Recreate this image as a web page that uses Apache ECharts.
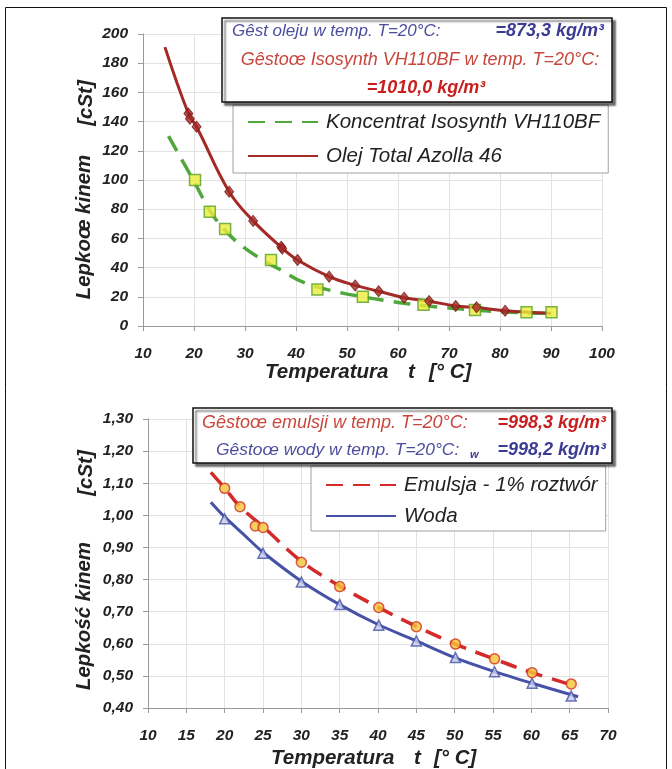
<!DOCTYPE html>
<html><head><meta charset="utf-8">
<script src="https://cdn.jsdelivr.net/npm/echarts@6/dist/echarts.min.js"></script>
<style>html,body{margin:0;padding:0;background:#fff}#c{width:672px;height:769px}</style>
</head><body><div id="c"></div>
<script>
// ---- Top chart data ----
const topXTicks = [10,20,30,40,50,60,70,80,90,100];
const topYTicks = [0,20,40,60,80,100,120,140,160,180,200];
const oilLine = [[14.3,191],[18.9,145.5],[20.5,136.5],[26.9,92],[31.6,72],[37.1,54],[40.3,45.2],[46.5,33.8],[51.6,27.8],[56.2,23.8],[61.2,19.4],[66.1,17],[71.3,13.7],[75.4,12.6],[81,10.5],[90,8.8]];
const oilMarks = [[18.9,145.5],[19.2,142],[20.5,136.5],[26.9,92],[31.6,72],[37.1,54.3],[37.3,53],[40.3,45.2],[46.5,33.8],[51.6,27.8],[56.2,23.8],[61.2,19.4],[66.1,17.1],[71.3,13.7],[75.4,12.8],[81,10.5]];
const concLine = [[15,130],[20,99],[23.3,78],[26.5,64],[29.7,54],[33.6,45],[37.2,38],[41.4,30],[47.3,24],[53,20],[58.4,17],[65,14],[75,11],[85,9],[90,8.8]];
const concMarks = [[20.2,100],[23.1,78.3],[26.1,66.4],[35.1,45.2],[44.2,25],[53.1,20],[65,14.5],[75.1,11],[85.2,9.5],[90.1,9.5]];
// ---- Bottom chart data ----
const botXTicks = [10,15,20,25,30,35,40,45,50,55,60,65,70];
const botYTicks = [0.4,0.5,0.6,0.7,0.8,0.9,1.0,1.1,1.2,1.3];
const emulLine = [[18.2,1.134],[20,1.085],[22,1.027],[25,0.965],[30,0.857],[35,0.78],[40,0.714],[45,0.654],[50,0.6],[55,0.554],[60,0.511],[66.1,0.466]];
const emulMarks = [[20,1.084],[22,1.027],[24,0.967],[25,0.962],[30,0.854],[35,0.778],[40.1,0.713],[45,0.653],[50.1,0.599],[55.2,0.553],[60.1,0.51],[65.2,0.475]];
const waterLine = [[18.2,1.041],[20,0.995],[22.5,0.94],[25,0.885],[30,0.795],[35,0.722],[40,0.66],[45,0.609],[50,0.557],[55,0.515],[60,0.478],[66.1,0.435]];
const waterMarks = [[20,0.989],[25,0.882],[30,0.792],[35,0.722],[40.1,0.658],[45,0.609],[50.1,0.557],[55.2,0.513],[60.1,0.477],[65.2,0.437]];

const FF = '"Liberation Sans", Arial, sans-serif';
const tickLbl = {fontFamily:FF, fontStyle:'italic', fontWeight:'bold', fontSize:15.5, color:'#222'};
const gridLine = {show:true, lineStyle:{color:'#e2e2e2', width:1}};
const axLine = {show:true, lineStyle:{color:'#9a9a9a', width:1}};
const axTick = {show:true, length:5, lineStyle:{color:'#9a9a9a'}};

const chart = echarts.init(document.getElementById('c'), null, {renderer:'canvas'});

function infoText(x, y, txt, color, bold, align, size) {
  return {type:'text', x:x, y:y, style:{text:txt, fill:color, font:(bold?'italic bold ':'italic ')+(size||18)+'px '+FF, textAlign:align||'left', textVerticalAlign:'middle'}, z:101};
}
function titleText(x, y, txt, rot) {
  return {type:'text', x:x, y:y, rotation:rot||0, style:{text:txt, fill:'#222', font:'italic bold 20.5px '+FF, textAlign:rot?'center':'left', textVerticalAlign:'middle'}, z:10};
}
const blueT = '#4d4d9e', redT = '#c8463c', blueB = '#3b3b94', redB = '#c81e1e';
const legText = {fontFamily:FF, fontStyle:'italic', fontSize:20.5, color:'#222', padding:[0,0,0,3]};

chart.setOption({
  animation:false,
  backgroundColor:'#fff',
  grid:[
    {left:143, right:70, top:34, height:292},
    {left:148, right:64, top:419, height:289}
  ],
  xAxis:[
    {type:'value', gridIndex:0, min:topXTicks[0], max:topXTicks[topXTicks.length-1], interval:10,
     axisLine:axLine, axisTick:axTick, splitLine:gridLine, axisLabel:Object.assign({margin:20}, tickLbl)},
    {type:'value', gridIndex:1, min:botXTicks[0], max:botXTicks[botXTicks.length-1], interval:5,
     axisLine:axLine, axisTick:axTick, splitLine:gridLine, axisLabel:Object.assign({margin:20}, tickLbl)}
  ],
  yAxis:[
    {type:'value', gridIndex:0, min:topYTicks[0], max:topYTicks[topYTicks.length-1], interval:20,
     axisLine:axLine, axisTick:axTick, splitLine:gridLine, axisLabel:Object.assign({margin:15}, tickLbl)},
    {type:'value', gridIndex:1, min:botYTicks[0], max:botYTicks[botYTicks.length-1], interval:0.1,
     axisLine:axLine, axisTick:axTick, splitLine:gridLine,
     axisLabel:Object.assign({margin:15, formatter:v=>v.toFixed(2).replace('.',',')}, tickLbl)}
  ],
  legend:[
    {data:['Koncentrat Isosynth VH110BF','Olej Total Azolla 46'], orient:'vertical', left:233, top:105,
     itemWidth:70, itemHeight:14, itemGap:14, padding:[7,8,7,14],
     borderColor:'#a0a0a0', borderWidth:1, backgroundColor:'#fff',
     itemStyle:{opacity:0}, textStyle:legText},
    {data:['Emulsja - 1% roztwór','Woda'], orient:'vertical', left:311, top:466,
     itemWidth:70, itemHeight:14, itemGap:11, padding:[9,8,5,14],
     borderColor:'#a0a0a0', borderWidth:1, backgroundColor:'#fff',
     itemStyle:{opacity:0}, textStyle:legText}
  ],
  series:[
    {name:'Koncentrat Isosynth VH110BF', type:'line', xAxisIndex:0, yAxisIndex:0, data:concLine, smooth:0.4,
     symbol:'none', lineStyle:{color:'#4ea83c', width:3.5, type:[17,10]}, itemStyle:{color:'#4ea83c'}, z:3},
    {name:'Olej Total Azolla 46', type:'line', xAxisIndex:0, yAxisIndex:0, data:oilLine, smooth:0.4,
     symbol:'none', lineStyle:{color:'#a32a26', width:3}, itemStyle:{color:'#a32a26'}, z:4},
    {name:'concMarks', type:'scatter', xAxisIndex:0, yAxisIndex:0, data:concMarks, symbol:'rect', symbolSize:11,
     itemStyle:{color:'#ecec3c', borderColor:'#58a024', borderWidth:1.5}, z:5},
    {name:'oilMarks', type:'scatter', xAxisIndex:0, yAxisIndex:0, data:oilMarks, symbol:'diamond', symbolSize:[9,11],
     itemStyle:{color:'#a32a26', borderColor:'#7a1a16', borderWidth:1}, z:6},
    {name:'Emulsja - 1% roztwór', type:'line', xAxisIndex:1, yAxisIndex:1, data:emulLine, smooth:0.4,
     symbol:'none', lineStyle:{color:'#d42a2a', width:3.5, type:[17,10]}, itemStyle:{color:'#d42a2a'}, z:4},
    {name:'Woda', type:'line', xAxisIndex:1, yAxisIndex:1, data:waterLine, smooth:0.3,
     symbol:'none', lineStyle:{color:'#4552a6', width:3}, itemStyle:{color:'#4552a6'}, z:3},
    {name:'emulMarks', type:'scatter', xAxisIndex:1, yAxisIndex:1, data:emulMarks, symbol:'circle', symbolSize:10,
     itemStyle:{color:'#f6c43a', borderColor:'#d0321e', borderWidth:1.5}, z:6},
    {name:'waterMarks', type:'scatter', xAxisIndex:1, yAxisIndex:1, data:waterMarks, symbol:'triangle', symbolSize:10,
     itemStyle:{color:'#c9cdea', borderColor:'#4552a6', borderWidth:1.5}, z:5}
  ],
  graphic:[
    {type:'rect', shape:{x:5.5, y:7.5, width:661, height:800}, style:{fill:'none', stroke:'#111', lineWidth:1}, z:1},
    // top info box
    {type:'rect', shape:{x:222, y:18, width:390, height:84}, style:{fill:'#fff', stroke:'#111', lineWidth:1.5, shadowColor:'rgba(0,0,0,0.55)', shadowOffsetX:3, shadowOffsetY:3, shadowBlur:2}, z:100},
    infoText(232, 31, 'Gêst oleju w temp. T=20°C:', blueT, false, 'left', 17),
    infoText(604, 31, '=873,3 kg/m³', blueB, true, 'right'),
    infoText(420, 60, 'Gêstoœ Isosynth VH110BF w temp. T=20°C:', redT, false, 'center'),
    infoText(426, 88, '=1010,0 kg/m³', redB, true, 'center'),
    // bottom info box
    {type:'rect', shape:{x:193, y:408, width:419, height:55}, style:{fill:'#fff', stroke:'#111', lineWidth:1.5, shadowColor:'rgba(0,0,0,0.55)', shadowOffsetX:3, shadowOffsetY:3, shadowBlur:2}, z:100},
    infoText(202, 423, 'Gêstoœ emulsji w temp. T=20°C:', redT, false),
    infoText(606, 423, '=998,3 kg/m³', redB, true, 'right'),
    infoText(216, 450, 'Gêstoœ wody w temp. T=20°C:', blueT, false, 'left', 17.4),
    {type:'text', x:470, y:455, style:{text:'w', fill:blueB, font:'italic bold 11px '+FF, textVerticalAlign:'middle'}, z:101},
    infoText(606, 450, '=998,2 kg/m³', blueB, true, 'right'),
    // axis titles
    titleText(84, 227, 'Lepkoœ kinem', Math.PI/2),
    titleText(86, 103, '[cSt]', Math.PI/2),
    titleText(84, 616, 'Lepkość kinem', Math.PI/2),
    titleText(86, 473, '[cSt]', Math.PI/2),
    titleText(265, 372, 'Temperatura'),
    titleText(408, 372, 't'),
    titleText(429, 372, '[° C]'),
    titleText(271, 758, 'Temperatura'),
    titleText(414, 758, 't'),
    titleText(434, 758, '[° C]')
  ]
});
</script></body></html>
